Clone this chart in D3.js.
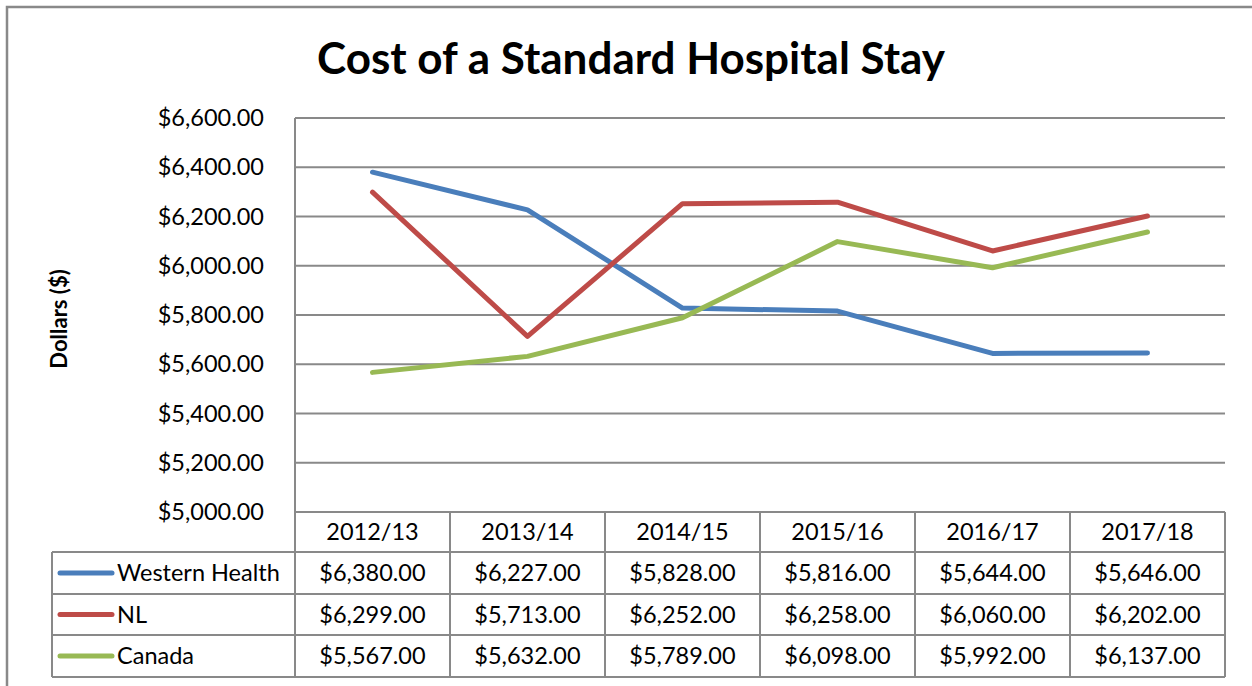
<!DOCTYPE html>
<html lang="en">
<head>
    <meta charset="UTF-8">
    <title>Cost of a Standard Hospital Stay</title>
    <script src="https://d3js.org/d3.v7.min.js"></script>
    <style>
        body { margin: 0; background: #fff; }
        text { font-family: Lato, "Open Sans", sans-serif; fill: #000; }
    </style>
</head>
<body>
    <div id="chart"></div>
    <script>
        const years = ["2012/13", "2013/14", "2014/15", "2015/16", "2016/17", "2017/18"];
        const seriesNames = ["Western Health", "NL", "Canada"];
        const westernHealth = [6380, 6227, 5828, 5816, 5644, 5646];
        const nl = [6299, 5713, 6252, 6258, 6060, 6202];
        const canada = [5567, 5632, 5789, 6098, 5992, 6137];
        const yTicks = [5000, 5200, 5400, 5600, 5800, 6000, 6200, 6400, 6600];
        const colors = ["#4a7ebb", "#be4b48", "#98b954"];

        const series = [westernHealth, nl, canada];

        const width = 1252;
        const height = 686;
        const plotLeft = 295, plotRight = 1225, plotTop = 118, plotBottom = 512;
        const rowEdges = [512, 552, 594, 635, 677];
        const grey = "#898989";
        const fs = "23.5px";

        const svg = d3.select("#chart")
            .append("svg")
            .attr("width", width)
            .attr("height", height);

        // outer chart border
        svg.append("rect")
            .attr("x", 7).attr("y", 7)
            .attr("width", width + 20).attr("height", height + 20)
            .attr("fill", "none")
            .attr("stroke", grey)
            .attr("stroke-width", 2.5);

        const xScale = d3.scaleBand()
            .domain(years)
            .range([plotLeft, plotRight])
            .padding(0);

        const yScale = d3.scaleLinear()
            .domain([5000, 6600])
            .range([plotBottom, plotTop]);

        // gridlines
        svg.append("g")
            .selectAll("line")
            .data(yTicks)
            .join("line")
            .attr("x1", plotLeft).attr("x2", plotRight)
            .attr("y1", d => yScale(d)).attr("y2", d => yScale(d))
            .attr("stroke", grey)
            .attr("stroke-width", 2);

        // y axis line
        svg.append("line")
            .attr("x1", plotLeft).attr("x2", plotLeft)
            .attr("y1", plotTop).attr("y2", plotBottom)
            .attr("stroke", grey)
            .attr("stroke-width", 2);

        // y tick labels
        const fmt = d3.format("$,.2f");
        svg.append("g")
            .selectAll("text")
            .data(yTicks)
            .join("text")
            .attr("x", plotLeft - 31)
            .attr("y", d => yScale(d))
            .attr("dy", "0.35em")
            .attr("text-anchor", "end")
            .style("font-size", fs)
            .text(d => fmt(d));

        // title
        svg.append("text")
            .attr("x", 631)
            .attr("y", 74)
            .attr("text-anchor", "middle")
            .style("font-size", "44px")
            .style("font-weight", "bold")
            .text("Cost of a Standard Hospital Stay");

        // y axis title
        svg.append("text")
            .attr("transform", "translate(67,319) rotate(-90)")
            .attr("text-anchor", "middle")
            .style("font-size", "22px")
            .style("font-weight", "bold")
            .text("Dollars ($)");

        // lines
        const line = d3.line()
            .x((d, i) => xScale(years[i]) + xScale.bandwidth() / 2)
            .y(d => yScale(d));

        svg.append("g")
            .selectAll("path")
            .data(series)
            .join("path")
            .attr("d", line)
            .attr("fill", "none")
            .attr("stroke", (d, i) => colors[i])
            .attr("stroke-width", 5)
            .attr("stroke-linecap", "round")
            .attr("stroke-linejoin", "round");

        // data table
        const table = svg.append("g");
        const legendLeft = 52;

        // horizontal table lines
        rowEdges.forEach((y, i) => {
            table.append("line")
                .attr("x1", i === 0 ? plotLeft : legendLeft).attr("x2", plotRight)
                .attr("y1", y).attr("y2", y)
                .attr("stroke", grey).attr("stroke-width", 2);
        });
        // vertical table lines
        const colEdges = years.map(y => xScale(y)).concat([plotRight]);
        colEdges.forEach(x => {
            table.append("line")
                .attr("x1", x).attr("x2", x)
                .attr("y1", rowEdges[0]).attr("y2", rowEdges[4])
                .attr("stroke", grey).attr("stroke-width", 2);
        });
        table.append("line")
            .attr("x1", legendLeft).attr("x2", legendLeft)
            .attr("y1", rowEdges[1]).attr("y2", rowEdges[4])
            .attr("stroke", grey).attr("stroke-width", 2);

        // header labels
        table.selectAll(".year")
            .data(years)
            .join("text")
            .attr("class", "year")
            .attr("x", d => xScale(d) + xScale.bandwidth() / 2)
            .attr("y", (rowEdges[0] + rowEdges[1]) / 2)
            .attr("dy", "0.35em")
            .attr("text-anchor", "middle")
            .style("font-size", fs)
            .text(d => d);

        // series rows
        series.forEach((vals, r) => {
            const yMid = (rowEdges[r + 1] + rowEdges[r + 2]) / 2;
            table.append("line")
                .attr("x1", 60).attr("x2", 112)
                .attr("y1", yMid).attr("y2", yMid)
                .attr("stroke", colors[r])
                .attr("stroke-width", 5)
                .attr("stroke-linecap", "round");
            table.append("text")
                .attr("x", 117)
                .attr("y", yMid)
                .attr("dy", "0.35em")
                .style("font-size", fs)
                .text(seriesNames[r]);
            table.selectAll(".v" + r)
                .data(vals)
                .join("text")
                .attr("class", "v" + r)
                .attr("x", (d, i) => xScale(years[i]) + xScale.bandwidth() / 2)
                .attr("y", yMid)
                .attr("dy", "0.35em")
                .attr("text-anchor", "middle")
                .style("font-size", fs)
                .text(d => fmt(d));
        });
    </script>
</body>
</html>
